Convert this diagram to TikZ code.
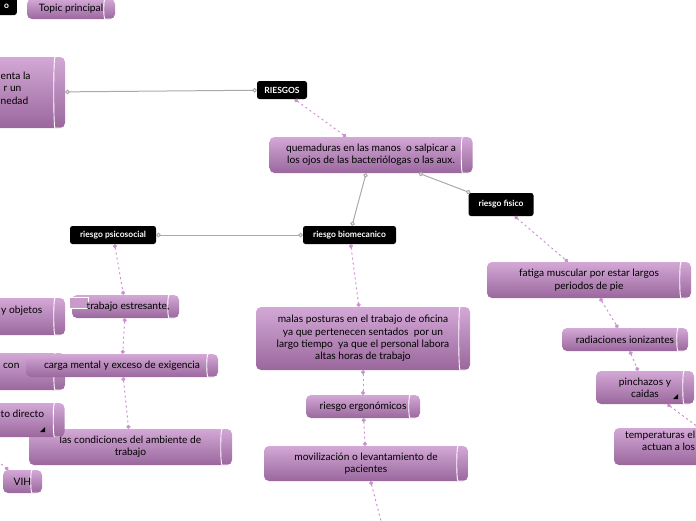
\documentclass[tikz,border=0pt]{standalone}
\usepackage{fontspec}
\setmainfont{Lato}
\usetikzlibrary{shapes, arrows, arrows.meta}

\definecolor{topcol}{HTML}{D3A8D6}
\definecolor{botcol}{HTML}{9A679D}
\definecolor{dashcol}{HTML}{CC92D0}
\definecolor{linecol}{HTML}{AAAAAA}

\begin{document}
\begin{tikzpicture}[x=1pt, y=-1pt]

\tikzstyle{topic} = [rectangle, rounded corners=5pt, top color=topcol, bottom color=botcol, text centered, align=center, inner sep=1pt, font=\fontsize{10.2}{12.3}\selectfont,
  path picture={\draw[white, line width=0.9pt] ([xshift=-5pt]path picture bounding box.north east) .. controls ([xshift=1.67pt]path picture bounding box.north east) and ([xshift=1.67pt]path picture bounding box.south east) .. ([xshift=-5pt]path picture bounding box.south east) .. controls ([xshift=-11.67pt]path picture bounding box.south east) and ([xshift=-11.67pt]path picture bounding box.north east) .. cycle;}]
\tikzstyle{frag} = [align=left, inner sep=0pt, font=\fontsize{10.2}{12.3}\selectfont]
\tikzstyle{label} = [rectangle, rounded corners=2.5pt, fill=black, text=white, text centered, inner sep=1pt, font=\bfseries\fontsize{8.5}{10}\selectfont]
\tikzstyle{connector} = [draw=linecol, line width=1pt, {Circle[open, length=4.5pt, width=4.5pt]}-{Circle[open, length=4.5pt, width=4.5pt]}]
\tikzstyle{dashline} = [draw=dashcol, line width=1pt, dash pattern=on 2pt off 3pt, {Circle[length=4pt]}-{Circle[length=4pt]}]

\useasboundingbox (0,0) rectangle (696,520);
\clip (0,0) rectangle (696,520);

\node [label, minimum width=60, minimum height=20, anchor=east] at (17,5) (legend) {};
\node [label, anchor=west] at (3,6) (legendtext) {o};
\node [topic, minimum width=88, minimum height=20] at (71,9) (principal) {Topic principal};

\node [topic, minimum width=145, minimum height=71] at (-7.5,92.5) (bigleft) {};
\node [frag, anchor=west] at (0.5,88) (bigtext) {enta la\\\hspace*{3pt}r un\\nedad};

\node [label, minimum width=50, minimum height=18] at (282,90) (riesgos) {RIESGOS};
\node [topic, minimum width=203, minimum height=36] at (371,155) (quemaduras) {quemaduras en las manos\ \ o salpicar a\\los ojos de las bacteriólogas o las aux.};

\node [label, minimum width=65, minimum height=23] at (501,204.5) (fisico) {riesgo fisico};
\node [label, minimum width=93, minimum height=18] at (349.5,235) (biomecanico) {riesgo biomecanico};
\node [label, minimum width=86, minimum height=18] at (113,235) (psicosocial) {riesgo psicosocial};

\node [topic, minimum width=145, minimum height=37] at (-7.5,316.5) (objetos) {};
\node [frag, anchor=west] at (1,311) (objtext) {y objetos};
\node [topic, minimum width=107, minimum height=23] at (125.5,306.5) (trabajo) {};
\node [rectangle, draw=white, line width=0.8pt, fill=topcol!80!botcol, minimum width=19, minimum height=11, inner sep=0pt] at (78.5,302.5) (mini) {};
\node [frag, anchor=center] at (128,306.5) (trabtext) {trabajo estresante,};

\node [topic, minimum width=145, minimum height=37] at (-7.5,371.5) (con) {};
\node [frag, anchor=west] at (3,366) (context) {con};
\node [topic, minimum width=192, minimum height=23] at (122,365.5) (carga) {carga mental y exceso de exigencia};

\node [topic, minimum width=203, minimum height=36] at (130.5,447) (condiciones) {las condiciones del ambiente de\\trabajo};
\node [topic, minimum width=145, minimum height=34] at (-8,420) (directo) {};
\node [frag, anchor=west] at (0.5,414) (dirtext) {to directo};
\fill (40,432) -- (45,432) -- (45,427) -- cycle;

\node [topic, minimum width=39, minimum height=23] at (22.5,481.5) (vih) {VIH};
\coordinate (vihfrom) at (-40,430);

\node [topic, minimum width=214, minimum height=63] at (363,338.5) (malas) {malas posturas en el trabajo de oficina\\ya que pertenecen sentados\ \ por un\\largo tiempo\ \ ya que el personal labora\\altas horas de trabajo};
\node [topic, minimum width=114, minimum height=23] at (363,406.5) (ergonomicos) {riesgo ergonómicos};
\node [topic, minimum width=204, minimum height=35] at (366,463.5) (movilizacion) {movilización o levantamiento de\\pacientes};
\coordinate (bajo) at (386,540);

\node [topic, minimum width=204, minimum height=36] at (589,280) (fatiga) {fatiga muscular por estar largos\\periodos de pie};
\node [topic, minimum width=126, minimum height=23] at (625,339.5) (radiaciones) {radiaciones ionizantes};
\node [topic, minimum width=98, minimum height=33] at (645,387.5) (pinchazos) {pinchazos y\\caidas};
\fill (673,399) -- (678,399) -- (678,394) -- cycle;
\node [topic, minimum width=220, minimum height=37] at (724,446.5) (temperaturas) {};
\node [frag, anchor=west] at (625,440.5) (temptext) {temperaturas el\\\hspace*{17pt}actuan a los};

\path [connector] (bigleft) -- (riesgos);
\path [connector] (quemaduras) -- (biomecanico);
\path [connector] (quemaduras) -- (fisico);
\path [connector] (psicosocial) -- (biomecanico);

\path [dashline] (riesgos) -- (quemaduras);
\path [dashline] (psicosocial) -- (trabajo);
\path [dashline] (trabajo) -- (carga);
\path [dashline] (carga) -- (condiciones);
\path [dashline] (vihfrom) -- (vih);
\path [dashline] (biomecanico) -- (malas);
\path [dashline] (malas) -- (ergonomicos);
\path [dashline] (ergonomicos) -- (movilizacion);
\path [dashline] (movilizacion) -- (bajo);
\path [dashline] (fisico) -- (fatiga);
\path [dashline] (fatiga) -- (radiaciones);
\path [dashline] (radiaciones) -- (pinchazos);
\path [dashline] (pinchazos) -- (temperaturas);

\end{tikzpicture}
\end{document}
